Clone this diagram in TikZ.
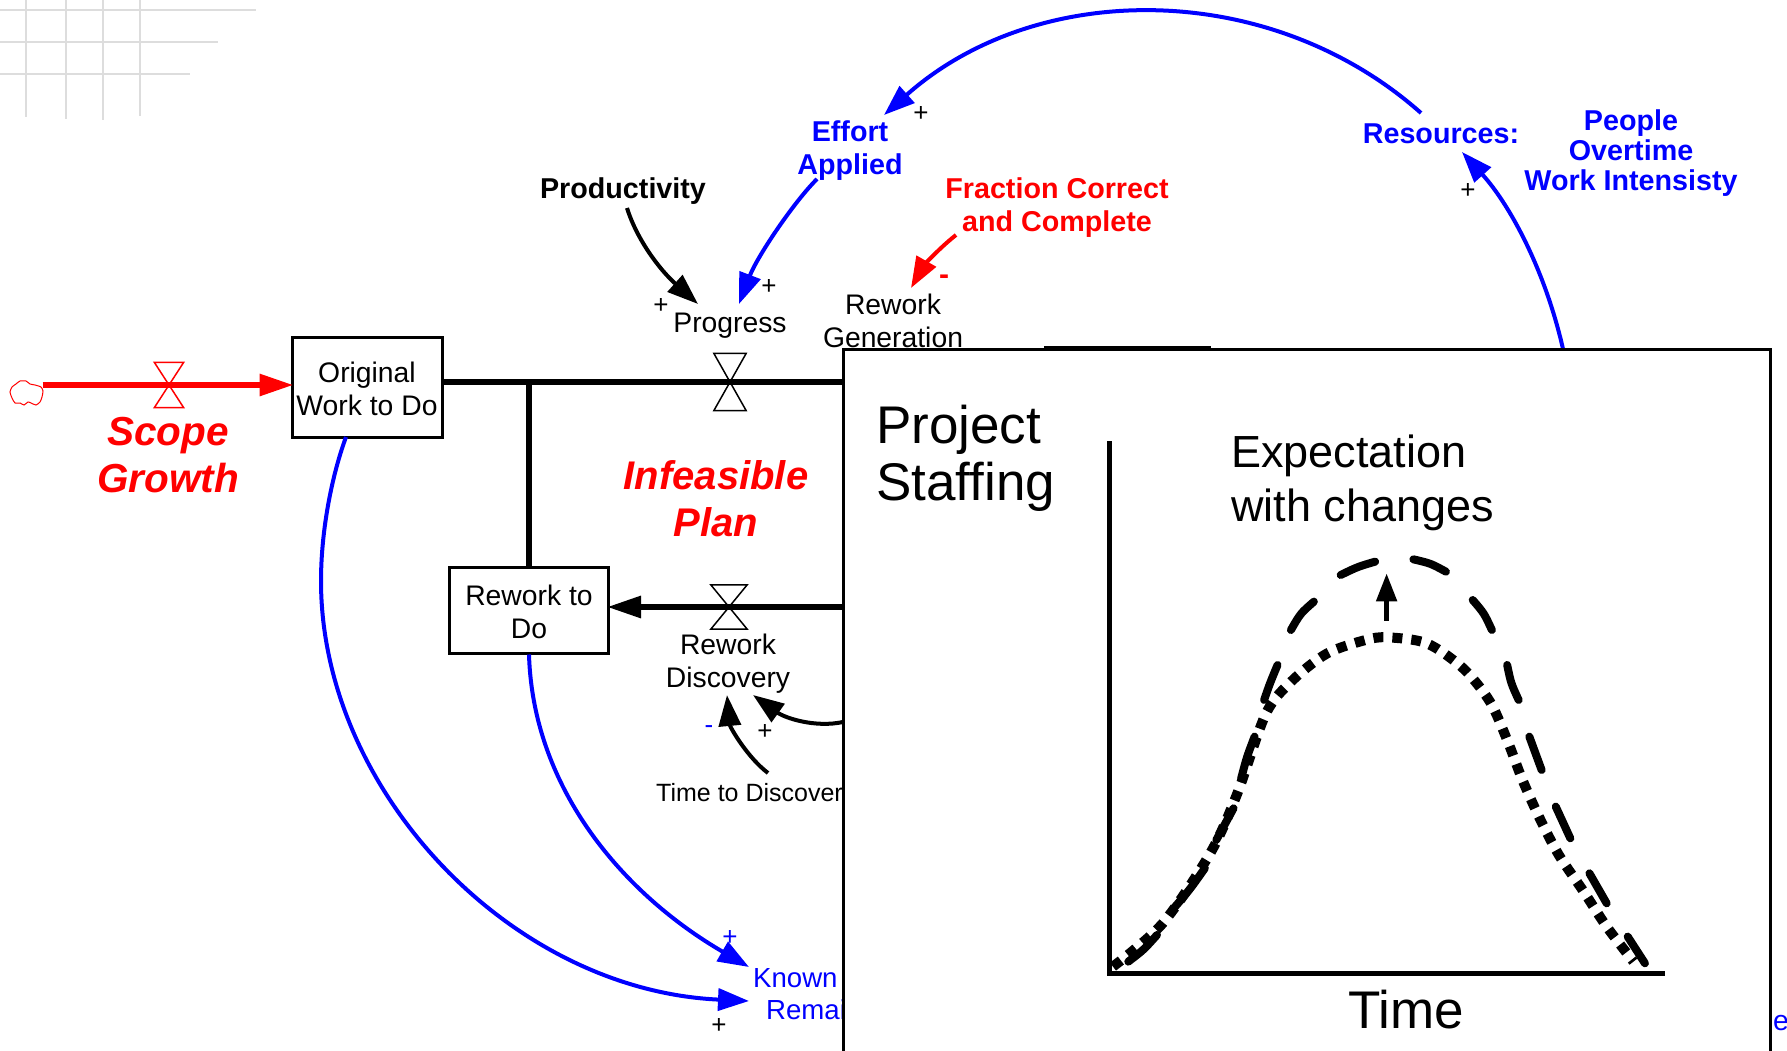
\documentclass[tikz,border=0pt]{standalone}
\usepackage{fontspec}
\setmainfont{Liberation Sans}
\usetikzlibrary{arrows.meta}
\definecolor{gridgrey}{RGB}{221,221,221}
\tikzset{
    x=1pt, y=-1pt,
    every node/.style={inner sep=0pt, align=center, font=\fontsize{28.3}{33}\selectfont},
    stock/.style={draw, line width=3pt, minimum width=150pt, minimum height=100pt},
    varname/.style={font=\fontsize{28.7}{33}\bfseries\selectfont},
    bigname/.style={font=\fontsize{40}{47}\bfseries\itshape\selectfont, text=red},
    sign/.style={font=\fontsize{26}{28}\selectfont},
    hugetext/.style={font=\fontsize{53}{57}\selectfont, align=left},
    flow/.style={line width=6pt},
    inflow/.style={flow, shorten >=-3pt, -{Triangle[length=34pt,width=21pt]}},
    link/.style={line width=4pt, -{Triangle[length=31pt,width=22pt]}},
    gridline/.style={gridgrey, line width=2pt},
    dashpiece/.style={line width=8pt, line cap=round}
}
\newcommand{\valve}[5]{%
    \node (#1) [minimum width=#3, minimum height=#4] at (#2) {};
    \draw[line width=1.5pt, #5] (#1.north west) -- (#1.north east) -- (#1.south west) -- (#1.south east) -- cycle;
}
\begin{document}
\begin{tikzpicture}
	\clip (0,0) rectangle (1787,1051);

	% paper grid
	\foreach \y/\xend in {10/256, 42/218, 74/190} \draw[gridline] (0,\y) -- (\xend,\y);
	\foreach \x/\yend in {26/117, 66/119, 103/120, 140/116} \draw[gridline] (\x,0) -- (\x,\yend);

	% stocks and rates
	\node (cloud) [minimum width=33pt, minimum height=26pt] at (26,393) {};
	\node (original) [stock] at (367,387) {\rule{0pt}{24pt}Original\\Work to Do};
	\node (reworkbox) [stock, minimum width=159pt, minimum height=86pt] at (529,610) {\rule{0pt}{24pt}Rework to\\Do};
	\valve{scopevalve}{169,385}{29pt}{45pt}{red}
	\valve{progressvalve}{730,382}{32pt}{57pt}{black}
	\valve{discoveryvalve}{729,607}{36pt}{44pt}{black}

	% labels
	\node (scope) [bigname, font=\fontsize{40.5}{47}\bfseries\itshape\selectfont] at (168,455) {Scope\\Growth};
	\node (infeasible) [bigname] at (716,499) {Infeasible\\Plan};
	\node (productivity) [varname] at (623,191) {Productivity};
	\node (effort) [varname, text=blue] at (850,151) {Effort\\Applied};
	\node (fraction) [varname, text=red] at (1057,208) {Fraction Correct\\and Complete};
	\node (resources) [varname, text=blue] at (1441,134) {Resources:};
	\node (people) [varname, text=blue, font=\fontsize{28.7}{30}\bfseries\selectfont] at (1631,153) {People\\Overtime\\Work Intensisty};
	\node (progress) at (730,326) {Progress};
	\node (generation) at (893,321) {Rework\\Generation};
	\node (discovery) at (728,664) {Rework\\Discovery};
	\node (discover) [font=\fontsize{25}{30}\selectfont, anchor=west] at (656,793) {Time to Discover};
	\node (known) [text=blue, anchor=west, font=\fontsize{27.6}{33}\selectfont] at (753,978) {Known};
	\node (remain) [text=blue, anchor=west, font=\fontsize{27.6}{33}\selectfont] at (766,1010) {Remai};
	\node (hiddene) [text=blue, anchor=west] at (1773,1023) {e};

	\node at (921,114) [sign] {+};
	\node at (769,287) [sign] {+};
	\node at (661,306) [sign] {+};
	\node at (765,732) [sign] {+};
	\node at (719,1026) [sign] {+};
	\node at (1468,191) [sign] {+};
	\node at (730,938) [sign, text=blue] {+};
	\node at (709,730) [sign, text=blue] {-};
	\node at (944,280) [sign, text=red, font=\fontsize{30}{30}\bfseries\selectfont] {-};

	% cloud
	\draw[red, line width=1pt] plot[smooth cycle, tension=.4] coordinates {(10,392) (12,387) (16,384) (20,381) (26,381) (30,384) (35,385) (41,387) (43,391) (42,397) (40,402) (36,405) (31,403) (28,402) (24,405) (20,403) (15,403) (12,398)};

	% flows
	\draw[red, inflow] (scopevalve.center -| cloud.east) -- (scopevalve.center) -- (scopevalve.center -| original.west);
	\draw[flow] (progressvalve.center -| original.east) -- (progressvalve.center) -- (843,382);
	\draw[flow] (reworkbox.north) -- (reworkbox.north |- progressvalve.center);
	\draw[inflow] (843,607) -- (discoveryvalve.center) -- (discoveryvalve.center -| reworkbox.east);

	% links
	\draw[link] ([shift={(4,17)}]productivity.center) ..controls (637,240) and (660,270).. ([shift={(-32,-22)}]progress.center);
	\draw[link, blue] ([shift={(-33,28)}]effort.center) ..controls (793,203) and (757,257).. ([shift={(9,-22)}]progress.center);
	\draw[link, red] ([shift={(-101,27)}]fraction.center) ..controls (937,250) and (923,267).. ([shift={(18,-33)}]generation.center);
	\draw[link, blue] ([shift={(-20,-21)}]resources.center) ..controls (1270,-21) and (1037,-21).. ([shift={(34,-36)}]effort.center);
	\draw[link, blue] (1563,349) ..controls (1545,270) and (1510,205).. ([shift={(21,18)}]resources.center);
	\draw[link] (843,722) ..controls (815,728) and (785,718).. ([shift={(25,31)}]discovery.center);
	\draw[link] ([shift={(112,-20)}]discover.west) ..controls (747,757) and (730,727).. ([shift={(-1,31)}]discovery.center);
	\draw[link, blue] (reworkbox.south) ..controls (533,790) and (625,895).. ([shift={(-4,-11)}]known.west);
	\draw[link, blue] ([shift={(-21,50)}]original.center) ..controls (332,475) and (321,530).. (321,581) ..controls (321,790) and (510,990).. ([shift={(-17,-9)}]remain.west);

	% inset
	\node (staffing) [draw, fill=white, line width=3pt, anchor=north west, minimum width=927pt, minimum height=760pt] at (842,347.5) {};
	\draw[line width=3pt] (1044,347) -- (1211,347);
	\node (title) [hugetext, anchor=north west] at (876,405) {Project\\Staffing};
	\node (expect) [font=\fontsize{45}{54}\selectfont, align=left, anchor=north west] at (1231,435) {Expectation\\with changes};
	\node (time) [font=\fontsize{53}{56}\selectfont] at (1406,1010) {Time};

	\coordinate (origin) at (1109,973);
	\draw[line width=5pt] (1109,441) -- (origin) -- (1665,973);

	\begin{scope}[shift={(1090,530)}, x=.3827pt, y=-.3333pt]
		\draw[line width=10pt, dash pattern=on 10pt off 9pt] plot[smooth] coordinates {(60,1310) (190,1180) (315,968) (385,790) (460,550) (530,450) (620,370) (720,330) (777,322) (880,340) (975,415) (1045,515) (1090,630) (1130,750) (1175,865) (1225,975) (1290,1085) (1350,1190) (1420,1295)};
		\foreach \xa/\ya/\xm/\ym/\xb/\yb in {100/1295/140/1260/175/1215, 215/1140/260/1080/300/1015, 330/930/352/885/375/835, 395/745/410/680/430/620, 455/510/470/460/490/405, 525/300/550/250/585/215, 655/135/700/110/745/95, 845/88/890/100/930/125, 1000/210/1030/250/1050/300, 1090/405/1100/460/1120/510, 1148/620/1165/670/1180/720, 1217/830/1235/880/1255/925, 1305/1030/1325/1075/1350/1120, 1405/1220/1430/1260/1450/1300}
			\draw[dashpiece] (\xa,\ya) ..controls (\xm,\ym).. (\xb,\yb);
		\draw[line width=5pt, -{Triangle[length=28pt,width=20pt]}] (775,272) -- (775,130);
	\end{scope}
\end{tikzpicture}
\end{document}
